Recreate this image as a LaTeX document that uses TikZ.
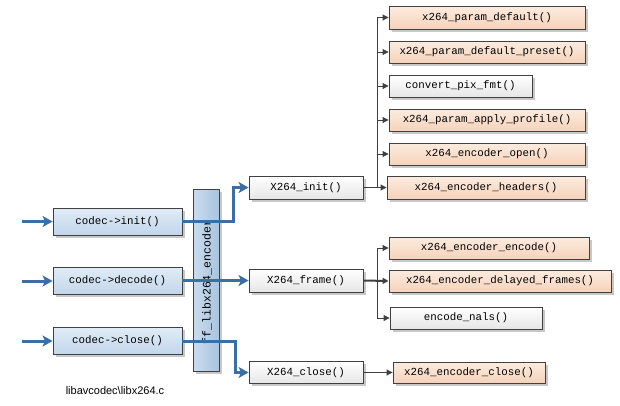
\documentclass[tikz,border=0pt]{standalone}
\usepackage{fontspec}
\setmonofont{Liberation Mono}
\setsansfont{Liberation Sans}
\usetikzlibrary{arrows.meta,shadows}
\definecolor{arrblue}{RGB}{58,110,165}
\definecolor{edge}{RGB}{64,64,64}
\definecolor{bluetop}{RGB}{224,235,246}
\definecolor{bluebot}{RGB}{194,214,234}
\definecolor{bartop}{RGB}{202,220,238}
\definecolor{barbot}{RGB}{168,196,222}
\definecolor{ortop}{RGB}{252,236,223}
\definecolor{orbot}{RGB}{246,210,186}
\definecolor{whbot}{RGB}{230,230,230}
\definecolor{shadowgray}{RGB}{200,200,200}
\tikzset{
  box/.style={draw=edge, line width=0.9pt, inner sep=0pt, font=\ttfamily\fontsize{10.8}{12}\selectfont,
    drop shadow={shadow xshift=2.5pt, shadow yshift=-2.5pt, fill=shadowgray, opacity=1}},
  bluebox/.style={box, top color=bluetop, bottom color=bluebot, minimum width=129pt, minimum height=27pt},
  midbox/.style={box, top color=white, bottom color=whbot, minimum width=114pt},
  orbox/.style={box, top color=ortop, bottom color=orbot},
  whbox/.style={box, top color=white, bottom color=whbot},
  barbox/.style={draw=edge, line width=0.9pt, left color=bartop, right color=barbot,
    drop shadow={shadow xshift=2.5pt, shadow yshift=-2.5pt, fill=shadowgray, opacity=1}},
  bluearrow/.style={draw=arrblue, line width=3pt, -{Stealth[length=10pt,width=11pt,inset=2.5pt]}},
  grayarrow/.style={draw=edge, line width=0.9pt, -{Triangle[length=6pt,width=6pt]}},
}
\begin{document}
\begin{tikzpicture}[x=1pt,y=-1pt]
\useasboundingbox (0,0) rectangle (620,405);
% left boxes
\node[bluebox] (init) at (117.5,221.5) {codec->init()};
\node[bluebox] (decode) at (117.5,281) {codec->decode()};
\node[bluebox] (close) at (117.5,341) {codec->close()};
% bar
\node[barbox, minimum width=26pt, minimum height=182pt, inner sep=0pt] (bar) at (206,280) {};
\node[rotate=90, font=\ttfamily\fontsize{11.5}{12}\selectfont] (bartext) at (207,282) {ff\_libx264\_encoder};
\node[font=\sffamily\fontsize{11}{12}\selectfont] (file) at (115,391) {libavcodec\textbackslash libx264.c};
% mid boxes
\node[midbox, minimum height=23pt] (xinit) at (306,187.5) {X264\_init()};
\node[midbox, minimum height=23pt] (xframe) at (306,280.5) {X264\_frame()};
\node[midbox, minimum height=22pt] (xclose) at (306,372.5) {X264\_close()};
% right boxes
\node[orbox, minimum width=196pt, minimum height=23pt] (pd) at (487,17.5) {x264\_param\_default()};
\node[orbox, minimum width=196pt, minimum height=22pt] (pp) at (487,52) {x264\_param\_default\_preset()};
\node[whbox, minimum width=143pt, minimum height=22pt] (cpf) at (460.5,86) {convert\_pix\_fmt()};
\node[orbox, minimum width=196pt, minimum height=22pt] (pap) at (487,120) {x264\_param\_apply\_profile()};
\node[orbox, minimum width=196pt, minimum height=22pt] (eo) at (487,154) {x264\_encoder\_open()};
\node[orbox, minimum width=198pt, minimum height=23pt] (eh) at (486,187.5) {x264\_encoder\_headers()};
\node[orbox, minimum width=200pt, minimum height=22pt] (ee) at (489,248) {x264\_encoder\_encode()};
\node[orbox, minimum width=222pt, minimum height=22pt] (edf) at (500,281) {x264\_encoder\_delayed\_frames()};
\node[whbox, minimum width=152pt, minimum height=22pt] (en) at (466,318) {encode\_nals()};
\node[orbox, minimum width=152pt, minimum height=21pt] (ec) at (469,372.5) {x264\_encoder\_close()};
% inputs
\coordinate (in1) at (22,221.5);
\coordinate (in2) at (22,281);
\coordinate (in3) at (22,341);
\draw[bluearrow] (in1) -- (init.west);
\draw[bluearrow] (in2) -- (decode.west);
\draw[bluearrow] (in3) -- (close.west);
% blue connectors
\draw[bluearrow] (init.east) -- ++(51,0) |- (xinit.west);
\draw[bluearrow] (decode.east |- xframe.west) -- (xframe.west);
\draw[bluearrow] (close.east) -- ++(53,0) |- (xclose.west);
% init fan-out
\coordinate (t1) at (377,187.5);
\draw[grayarrow] (xinit.east) -- (eh.west);
\draw[grayarrow] (t1) |- (pd.west);
\draw[grayarrow] (t1) |- (pp.west);
\draw[grayarrow] (t1) |- (cpf.west);
\draw[grayarrow] (t1) |- (pap.west);
\draw[grayarrow] (t1) |- (eo.west);
% frame fan-out
\coordinate (t2) at (377,280.5);
\draw[grayarrow, line width=2pt] (xframe.east) -- (edf.west);
\draw[grayarrow] (t2) |- (ee.west);
\draw[grayarrow] (t2) |- (en.west);
% close
\draw[grayarrow] (xclose.east) -- (ec.west);
\end{tikzpicture}
\end{document}
